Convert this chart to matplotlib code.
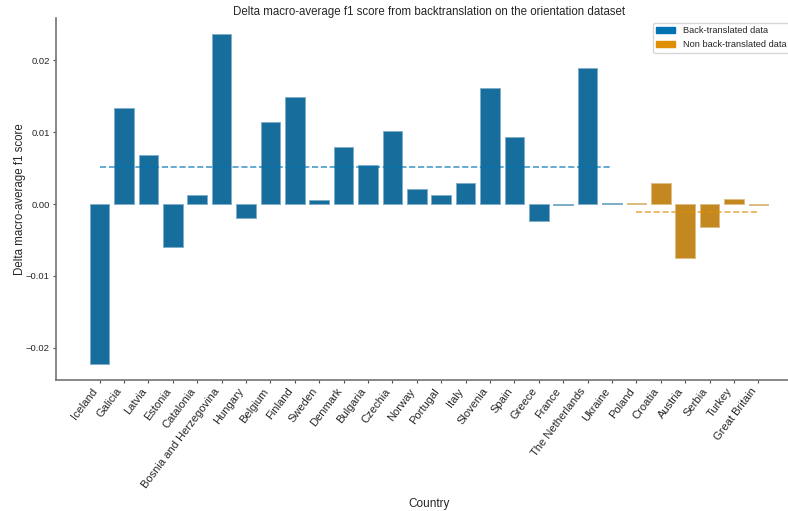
import numpy as np
import seaborn as sns
from matplotlib import pyplot as plt
from matplotlib.patches import Patch

countries = ["Iceland", "Galicia", "Latvia", "Estonia", "Catalonia",
             "Bosnia and Herzegovina", "Hungary", "Belgium", "Finland",
             "Sweden", "Denmark", "Bulgaria", "Czechia", "Norway", "Portugal",
             "Italy", "Slovenia", "Spain", "Greece", "France",
             "The Netherlands", "Ukraine",
             "Poland", "Croatia", "Austria", "Serbia", "Turkey", "Great Britain"]
back_translated = [-0.0222, 0.0134, 0.0068, -0.0060, 0.0013, 0.0236, -0.0020,
                   0.0114, 0.0149, 0.0006, 0.0079, 0.0055, 0.0102, 0.0021,
                   0.0013, 0.0029, 0.0162, 0.0093, -0.0023, -0.0002, 0.0189,
                   0.0002]
non_back_translated = [0.0002, 0.0029, -0.0075, -0.0032, 0.0007, -0.0001]
ytick_vals = [-0.02, -0.01, 0.0, 0.01, 0.02]
ytick_labels = ["\u22120.02", "\u22120.01", "0.00", "0.01", "0.02"]


def tint(c, f):
    return tuple(np.array(c) + (1 - np.array(c)) * f)


def main():
    sns.set_theme(style="ticks")
    plt.rcParams['font.family'] = ['Liberation Sans', 'DejaVu Sans']

    pal = sns.color_palette("colorblind")
    blue = sns.desaturate(pal[0], 0.75)
    orange = sns.desaturate(pal[1], 0.75)

    fig = plt.figure(figsize=(7.88, 5.11), dpi=100)
    # axes run past the right edge, like the cropped reference
    ax = fig.add_axes([56 / 788, 131 / 511, 746 / 788, 362 / 511])

    n1 = len(back_translated)
    n2 = len(non_back_translated)
    x1 = np.arange(n1)
    x2 = np.arange(n1, n1 + n2)

    ax.bar(x1, back_translated, width=0.8, color=blue,
           edgecolor=tint(blue, 0.45), linewidth=0.7)
    ax.bar(x2, non_back_translated, width=0.8, color=orange,
           edgecolor=tint(orange, 0.45), linewidth=0.7)

    # mean lines for both groups
    ax.plot([x1[0], x1[-1]], [np.mean(back_translated)] * 2, '--',
            color=pal[0], alpha=0.7, lw=1.2)
    ax.plot([x2[0], x2[-1]], [np.mean(non_back_translated)] * 2, '--',
            color=pal[1], alpha=0.7, lw=1.2)

    ax.set_xticks(np.arange(n1 + n2))
    ax.set_xticklabels(countries, rotation=53, ha='right', fontsize=8)
    ax.set_yticks(ytick_vals)
    ax.set_yticklabels(ytick_labels, fontsize=6.8)
    ax.tick_params(length=2.5, width=0.8, color='0.3', pad=2)

    ax.set_xlabel("Country", fontsize=8.5, labelpad=6)
    ax.set_ylabel("Delta macro-average f1 score", fontsize=8.3, labelpad=0)
    ax.set_title("Delta macro-average f1 score from backtranslation on the "
                 "orientation dataset", fontsize=8.3, pad=2)

    handles = [Patch(color=pal[0], label="Back-translated data"),
               Patch(color=pal[1], label="Non back-translated data")]
    ax.legend(handles=handles, loc='upper right', fontsize=6.7,
              bbox_to_anchor=(0.99, 1.0))

    sns.despine(ax=ax)
    for s in ['left', 'bottom']:
        ax.spines[s].set_color('0.45')
        ax.spines[s].set_linewidth(1.2)
    fig.savefig("out.png", dpi=100)


if __name__ == '__main__':
    main()
